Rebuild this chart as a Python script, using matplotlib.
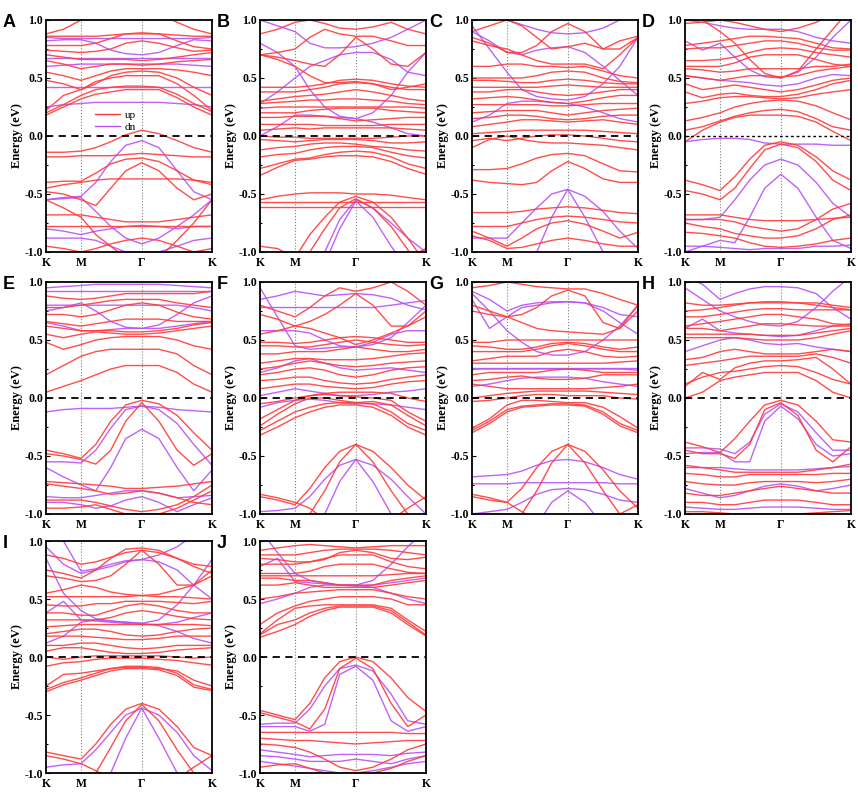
import numpy as np
import matplotlib
matplotlib.use("Agg")
import matplotlib.pyplot as plt
from matplotlib.ticker import MultipleLocator

plt.rcParams['font.family'] = ['Liberation Serif', 'DejaVu Serif']
plt.rcParams['axes.unicode_minus'] = False

# k-path K - M - G - K (fractions of path length), energies read at these points
KPTS = [0, 0.105, 0.211, 0.30, 0.39, 0.48, 0.577, 0.68, 0.79, 0.89, 1.0]
KTICKS = [0, 0.211, 0.577, 1.0]
KLABELS = ["K", "M", "Γ", "K"]
RED = "#ff3a3a"
PURPLE = "#b852f7"

A_up = [
    [-0.14, -0.14, -0.13, -0.10, -0.05, 0.01, 0.05, 0.02, -0.04, -0.10, -0.14],
    [-0.18, -0.18, -0.17, -0.17, -0.17, -0.16, -0.15, -0.16, -0.17, -0.18, -0.18],
    [-0.40, -0.39, -0.39, -0.32, -0.24, -0.20, -0.19, -0.22, -0.30, -0.38, -0.42],
    [-0.45, -0.42, -0.40, -0.38, -0.37, -0.37, -0.37, -0.37, -0.37, -0.38, -0.40],
    [-0.48, -0.50, -0.55, -0.60, -0.45, -0.30, -0.23, -0.30, -0.45, -0.55, -0.50],
    [-0.68, -0.68, -0.68, -0.70, -0.72, -0.74, -0.74, -0.74, -0.72, -0.70, -0.68],
    [-0.78, -0.78, -0.78, -0.78, -0.78, -0.78, -0.78, -0.78, -0.78, -0.78, -0.78],
    [-0.95, -0.97, -1.00, -0.97, -0.93, -0.90, -0.88, -0.90, -0.95, -1.00, -0.97],
    [-0.55, -0.62, -0.70, -0.85, -0.95, -1.05, -1.10, -1.05, -0.90, -0.75, -0.55],
    [0.18, 0.25, 0.32, 0.36, 0.38, 0.40, 0.40, 0.40, 0.33, 0.25, 0.18],
    [0.20, 0.27, 0.35, 0.40, 0.42, 0.43, 0.43, 0.42, 0.36, 0.28, 0.21],
    [0.22, 0.35, 0.40, 0.47, 0.50, 0.52, 0.52, 0.52, 0.45, 0.35, 0.22],
    [0.48, 0.45, 0.40, 0.45, 0.52, 0.55, 0.56, 0.55, 0.50, 0.42, 0.35],
    [0.55, 0.52, 0.48, 0.52, 0.56, 0.58, 0.58, 0.58, 0.57, 0.55, 0.52],
    [0.65, 0.62, 0.58, 0.60, 0.62, 0.62, 0.61, 0.62, 0.64, 0.65, 0.66],
    [0.70, 0.68, 0.66, 0.66, 0.66, 0.66, 0.65, 0.66, 0.68, 0.70, 0.72],
    [0.74, 0.73, 0.72, 0.73, 0.75, 0.80, 0.82, 0.80, 0.76, 0.73, 0.74],
    [0.78, 0.78, 0.78, 0.80, 0.84, 0.88, 0.89, 0.88, 0.82, 0.77, 0.75],
    [0.86, 0.86, 0.86, 0.86, 0.87, 0.88, 0.88, 0.88, 0.87, 0.86, 0.86],
    [0.88, 0.92, 1.00, 1.05, 1.10, 1.10, 1.10, 1.05, 0.98, 0.92, 0.88],
]
A_dn = [
    [-0.55, -0.53, -0.52, -0.40, -0.22, -0.08, -0.04, -0.10, -0.30, -0.48, -0.55],
    [-0.55, -0.54, -0.53, -0.65, -0.78, -0.88, -0.93, -0.88, -0.78, -0.68, -0.55],
    [-0.80, -0.82, -0.85, -0.82, -0.80, -0.78, -0.77, -0.78, -0.80, -0.78, -0.78],
    [-0.88, -0.88, -0.88, -0.90, -0.95, -1.00, -1.00, -1.00, -0.95, -0.90, -0.88],
    [0.25, 0.27, 0.28, 0.29, 0.29, 0.29, 0.29, 0.29, 0.28, 0.27, 0.25],
    [0.42, 0.42, 0.42, 0.42, 0.42, 0.42, 0.42, 0.42, 0.42, 0.42, 0.42],
    [0.60, 0.61, 0.62, 0.62, 0.62, 0.62, 0.62, 0.62, 0.62, 0.61, 0.60],
    [0.67, 0.67, 0.67, 0.67, 0.67, 0.67, 0.67, 0.67, 0.67, 0.67, 0.67],
    [0.82, 0.83, 0.83, 0.80, 0.74, 0.71, 0.70, 0.72, 0.78, 0.83, 0.82],
    [0.85, 0.84, 0.84, 0.84, 0.84, 0.84, 0.84, 0.84, 0.84, 0.84, 0.85],
]

B_up = [
    [-0.55, -0.52, -0.50, -0.49, -0.49, -0.49, -0.50, -0.50, -0.51, -0.53, -0.55],
    [-0.57, -0.57, -0.57, -0.57, -0.57, -0.57, -0.57, -0.57, -0.57, -0.57, -0.57],
    [-0.61, -0.61, -0.61, -0.61, -0.61, -0.61, -0.61, -0.61, -0.61, -0.61, -0.61],
    [-1.50, -1.30, -1.05, -0.85, -0.70, -0.57, -0.52, -0.57, -0.70, -0.88, -1.10],
    [-1.60, -1.40, -1.20, -1.00, -0.80, -0.62, -0.54, -0.62, -0.78, -0.98, -1.20],
    [-0.95, -0.97, -1.05, -1.15, -1.20, -1.20, -1.20, -1.20, -1.15, -1.05, -0.97],
    [0.00, -0.01, -0.01, -0.02, -0.02, -0.02, -0.02, -0.02, -0.01, 0.00, 0.00],
    [-0.03, -0.04, -0.05, -0.04, -0.03, -0.03, -0.03, -0.04, -0.06, -0.06, -0.05],
    [-0.12, -0.10, -0.09, -0.07, -0.06, -0.06, -0.07, -0.09, -0.10, -0.12, -0.13],
    [-0.18, -0.16, -0.15, -0.12, -0.10, -0.09, -0.09, -0.10, -0.14, -0.17, -0.19],
    [-0.28, -0.24, -0.20, -0.19, -0.16, -0.14, -0.13, -0.14, -0.18, -0.24, -0.28],
    [-0.34, -0.27, -0.21, -0.20, -0.18, -0.17, -0.17, -0.18, -0.22, -0.28, -0.33],
    [0.05, 0.06, 0.07, 0.06, 0.07, 0.07, 0.07, 0.07, 0.07, 0.06, 0.05],
    [0.10, 0.10, 0.10, 0.10, 0.09, 0.09, 0.09, 0.09, 0.10, 0.10, 0.10],
    [0.16, 0.16, 0.17, 0.17, 0.17, 0.15, 0.13, 0.14, 0.15, 0.16, 0.16],
    [0.20, 0.20, 0.20, 0.22, 0.23, 0.24, 0.24, 0.24, 0.22, 0.21, 0.20],
    [0.24, 0.25, 0.25, 0.25, 0.25, 0.25, 0.25, 0.25, 0.25, 0.25, 0.24],
    [0.28, 0.29, 0.30, 0.31, 0.31, 0.32, 0.32, 0.31, 0.30, 0.28, 0.27],
    [0.30, 0.32, 0.34, 0.35, 0.36, 0.38, 0.40, 0.38, 0.35, 0.32, 0.30],
    [0.38, 0.38, 0.38, 0.40, 0.42, 0.45, 0.46, 0.45, 0.42, 0.40, 0.40],
    [0.42, 0.42, 0.42, 0.43, 0.45, 0.48, 0.49, 0.48, 0.45, 0.43, 0.42],
    [0.70, 0.66, 0.60, 0.52, 0.46, 0.46, 0.47, 0.45, 0.40, 0.42, 0.45],
    [0.70, 0.68, 0.65, 0.62, 0.60, 0.70, 0.85, 0.75, 0.62, 0.60, 0.72],
    [0.70, 0.72, 0.75, 0.85, 0.92, 0.88, 0.86, 0.86, 0.82, 0.78, 0.78],
    [0.88, 0.92, 0.98, 1.00, 0.97, 0.93, 0.92, 0.94, 0.98, 0.92, 0.88],
]
B_dn = [
    [0.80, 0.72, 0.60, 0.40, 0.25, 0.17, 0.15, 0.20, 0.35, 0.55, 0.72],
    [0.00, 0.08, 0.18, 0.18, 0.17, 0.16, 0.15, 0.12, 0.07, 0.02, 0.00],
    [0.28, 0.38, 0.50, 0.60, 0.65, 0.70, 0.72, 0.72, 0.66, 0.55, 0.52],
    [1.00, 0.95, 0.90, 0.80, 0.76, 0.76, 0.77, 0.80, 0.85, 0.92, 1.00],
    [-1.60, -1.40, -1.25, -1.12, -1.00, -0.72, -0.55, -0.62, -0.75, -0.88, -1.00],
    [-1.50, -1.40, -1.30, -1.20, -1.10, -0.80, -0.56, -0.70, -0.95, -1.15, -1.30],
]

C_up = [
    [-0.66, -0.66, -0.66, -0.65, -0.63, -0.62, -0.61, -0.62, -0.64, -0.66, -0.67],
    [-0.78, -0.78, -0.78, -0.75, -0.72, -0.70, -0.69, -0.70, -0.72, -0.74, -0.75],
    [-0.82, -0.88, -0.95, -0.88, -0.80, -0.75, -0.73, -0.76, -0.82, -0.88, -0.83],
    [-0.86, -0.90, -0.97, -0.96, -0.93, -0.90, -0.88, -0.90, -0.93, -0.95, -0.95],
    [-0.38, -0.40, -0.41, -0.42, -0.40, -0.30, -0.22, -0.28, -0.37, -0.40, -0.40],
    [-0.29, -0.29, -0.28, -0.24, -0.19, -0.16, -0.15, -0.17, -0.24, -0.30, -0.31],
    [-0.10, -0.03, 0.00, -0.03, -0.05, -0.06, -0.06, -0.07, -0.08, -0.10, -0.12],
    [-0.04, -0.02, -0.04, -0.02, 0.00, 0.01, 0.01, 0.00, -0.02, -0.04, -0.05],
    [0.02, 0.03, 0.04, 0.05, 0.05, 0.05, 0.05, 0.05, 0.04, 0.03, 0.02],
    [0.08, 0.10, 0.12, 0.14, 0.14, 0.13, 0.12, 0.13, 0.14, 0.12, 0.10],
    [0.15, 0.16, 0.18, 0.18, 0.17, 0.15, 0.14, 0.15, 0.17, 0.18, 0.18],
    [0.20, 0.21, 0.22, 0.22, 0.22, 0.20, 0.18, 0.20, 0.22, 0.23, 0.24],
    [0.27, 0.27, 0.27, 0.27, 0.27, 0.26, 0.26, 0.27, 0.28, 0.28, 0.28],
    [0.32, 0.33, 0.34, 0.33, 0.31, 0.29, 0.28, 0.30, 0.33, 0.35, 0.35],
    [0.38, 0.38, 0.40, 0.40, 0.38, 0.36, 0.35, 0.36, 0.38, 0.40, 0.40],
    [0.42, 0.42, 0.42, 0.42, 0.42, 0.43, 0.44, 0.43, 0.42, 0.42, 0.42],
    [0.48, 0.48, 0.47, 0.46, 0.46, 0.48, 0.49, 0.48, 0.46, 0.45, 0.45],
    [0.50, 0.50, 0.50, 0.50, 0.52, 0.55, 0.56, 0.55, 0.50, 0.47, 0.46],
    [0.60, 0.60, 0.62, 0.62, 0.60, 0.60, 0.59, 0.60, 0.56, 0.52, 0.50],
    [0.82, 0.78, 0.75, 0.70, 0.65, 0.62, 0.62, 0.62, 0.58, 0.70, 0.85],
    [0.85, 0.80, 0.72, 0.72, 0.78, 0.90, 0.97, 0.90, 0.75, 0.75, 0.85],
    [0.90, 0.95, 1.00, 0.95, 0.85, 0.75, 0.77, 0.80, 0.75, 0.82, 0.86],
]
C_dn = [
    [-0.88, -0.88, -0.88, -0.75, -0.62, -0.50, -0.46, -0.52, -0.65, -0.82, -0.97],
    [-1.60, -1.50, -1.40, -1.20, -1.00, -0.70, -0.46, -0.70, -1.00, -1.30, -1.50],
    [0.95, 0.75, 0.55, 0.40, 0.34, 0.32, 0.31, 0.34, 0.45, 0.60, 0.85],
    [0.12, 0.18, 0.28, 0.30, 0.30, 0.29, 0.28, 0.25, 0.20, 0.15, 0.12],
    [1.20, 1.10, 1.00, 0.96, 0.92, 0.89, 0.88, 0.89, 0.93, 1.00, 1.10],
    [0.90, 0.82, 0.72, 0.70, 0.74, 0.76, 0.77, 0.72, 0.60, 0.48, 0.35],
]

D_up = [
    [-0.38, -0.42, -0.47, -0.35, -0.20, -0.08, -0.05, -0.08, -0.18, -0.30, -0.38],
    [-0.47, -0.50, -0.55, -0.45, -0.28, -0.12, -0.07, -0.10, -0.22, -0.38, -0.47],
    [-0.72, -0.72, -0.72, -0.74, -0.78, -0.80, -0.82, -0.80, -0.72, -0.63, -0.58],
    [-0.75, -0.78, -0.80, -0.84, -0.86, -0.88, -0.88, -0.86, -0.80, -0.72, -0.68],
    [-0.83, -0.84, -0.86, -0.88, -0.92, -0.95, -0.96, -0.95, -0.93, -0.90, -0.88],
    [-0.68, -0.68, -0.68, -0.70, -0.72, -0.73, -0.73, -0.73, -0.72, -0.71, -0.70],
    [-0.05, 0.05, 0.12, 0.16, 0.18, 0.18, 0.18, 0.17, 0.12, 0.04, -0.04],
    [0.05, 0.08, 0.13, 0.17, 0.20, 0.22, 0.23, 0.21, 0.15, 0.08, 0.05],
    [0.13, 0.16, 0.20, 0.25, 0.28, 0.30, 0.31, 0.30, 0.26, 0.20, 0.14],
    [0.28, 0.30, 0.33, 0.34, 0.34, 0.33, 0.32, 0.33, 0.36, 0.38, 0.40],
    [0.38, 0.33, 0.36, 0.37, 0.35, 0.34, 0.34, 0.36, 0.40, 0.45, 0.48],
    [0.45, 0.40, 0.42, 0.44, 0.42, 0.40, 0.38, 0.40, 0.44, 0.48, 0.50],
    [0.52, 0.50, 0.48, 0.50, 0.52, 0.52, 0.51, 0.52, 0.56, 0.58, 0.60],
    [0.58, 0.57, 0.55, 0.56, 0.58, 0.58, 0.58, 0.58, 0.60, 0.60, 0.62],
    [0.60, 0.60, 0.60, 0.63, 0.68, 0.70, 0.70, 0.70, 0.66, 0.62, 0.60],
    [0.65, 0.65, 0.66, 0.68, 0.72, 0.75, 0.76, 0.75, 0.72, 0.70, 0.68],
    [0.75, 0.76, 0.76, 0.78, 0.80, 0.82, 0.82, 0.80, 0.76, 0.74, 0.74],
    [0.78, 0.80, 0.82, 0.84, 0.86, 0.86, 0.85, 0.84, 0.80, 0.76, 0.75],
    [1.20, 1.00, 0.90, 0.80, 0.66, 0.54, 0.50, 0.56, 0.75, 0.92, 1.10],
    [0.97, 0.98, 1.00, 0.98, 0.95, 0.92, 0.90, 0.93, 0.98, 1.05, 1.10],
]
D_dn = [
    [-0.05, -0.03, -0.02, -0.02, -0.03, -0.06, -0.07, -0.07, -0.07, -0.08, -0.08],
    [-0.72, -0.72, -0.70, -0.55, -0.38, -0.25, -0.20, -0.25, -0.40, -0.58, -0.70],
    [-1.00, -0.95, -0.90, -0.92, -0.70, -0.45, -0.33, -0.45, -0.70, -0.90, -0.97],
    [-0.95, -0.95, -0.96, -0.97, -0.98, -0.97, -0.97, -0.97, -0.95, -0.95, -0.94],
    [0.52, 0.50, 0.48, 0.47, 0.46, 0.44, 0.43, 0.45, 0.50, 0.53, 0.52],
    [0.82, 0.74, 0.80, 0.68, 0.57, 0.51, 0.50, 0.55, 0.68, 0.85, 1.00],
    [1.00, 0.98, 0.95, 0.93, 0.92, 0.92, 0.92, 0.90, 0.85, 0.82, 0.80],
]

E_up = [
    [-0.45, -0.48, -0.52, -0.40, -0.20, -0.06, -0.02, -0.05, -0.15, -0.30, -0.45],
    [-0.48, -0.50, -0.53, -0.57, -0.45, -0.20, -0.04, -0.20, -0.45, -0.58, -0.48],
    [-0.72, -0.73, -0.74, -0.75, -0.76, -0.78, -0.78, -0.77, -0.76, -0.74, -0.72],
    [-0.74, -0.76, -0.78, -0.80, -0.83, -0.82, -0.80, -0.82, -0.86, -0.90, -0.92],
    [-0.95, -0.95, -0.94, -0.92, -0.96, -1.00, -1.00, -1.00, -0.95, -0.88, -0.80],
    [-0.88, -0.88, -0.88, -0.90, -0.93, -0.96, -0.98, -0.96, -0.92, -0.85, -0.75],
    [0.05, 0.10, 0.15, 0.20, 0.25, 0.28, 0.28, 0.28, 0.22, 0.12, 0.05],
    [0.20, 0.28, 0.36, 0.40, 0.42, 0.42, 0.42, 0.42, 0.38, 0.28, 0.20],
    [0.48, 0.42, 0.46, 0.50, 0.52, 0.53, 0.53, 0.53, 0.50, 0.45, 0.42],
    [0.55, 0.52, 0.55, 0.57, 0.56, 0.55, 0.55, 0.56, 0.58, 0.60, 0.62],
    [0.62, 0.60, 0.58, 0.58, 0.58, 0.57, 0.57, 0.58, 0.60, 0.63, 0.65],
    [0.66, 0.64, 0.62, 0.64, 0.66, 0.68, 0.68, 0.68, 0.66, 0.66, 0.66],
    [0.72, 0.72, 0.70, 0.72, 0.76, 0.80, 0.82, 0.80, 0.74, 0.70, 0.68],
    [0.78, 0.78, 0.80, 0.82, 0.84, 0.85, 0.85, 0.85, 0.82, 0.80, 0.78],
    [0.88, 0.86, 0.85, 0.86, 0.88, 0.90, 0.90, 0.90, 0.90, 0.90, 0.92],
]
E_dn = [
    [-0.12, -0.10, -0.09, -0.09, -0.09, -0.08, -0.07, -0.08, -0.10, -0.11, -0.12],
    [-0.55, -0.55, -0.56, -0.45, -0.26, -0.10, -0.07, -0.10, -0.22, -0.40, -0.58],
    [-0.60, -0.68, -0.75, -0.80, -0.60, -0.35, -0.27, -0.35, -0.60, -0.80, -0.62],
    [-0.85, -0.86, -0.86, -0.84, -0.82, -0.80, -0.80, -0.82, -0.86, -0.85, -0.84],
    [-0.90, -0.90, -0.92, -0.95, -0.93, -0.88, -0.85, -0.90, -0.98, -0.92, -0.86],
    [0.75, 0.78, 0.82, 0.75, 0.66, 0.61, 0.60, 0.63, 0.72, 0.82, 0.88],
    [0.65, 0.62, 0.58, 0.58, 0.59, 0.60, 0.60, 0.60, 0.62, 0.64, 0.66],
    [0.80, 0.80, 0.80, 0.80, 0.80, 0.80, 0.80, 0.80, 0.80, 0.78, 0.75],
    [0.92, 0.92, 0.92, 0.92, 0.92, 0.92, 0.92, 0.92, 0.92, 0.92, 0.92],
    [0.95, 0.96, 0.97, 0.98, 0.98, 0.98, 0.98, 0.98, 0.97, 0.96, 0.95],
]

F_up = [
    [-0.85, -0.88, -0.92, -0.78, -0.60, -0.46, -0.40, -0.46, -0.60, -0.75, -0.88],
    [-1.60, -1.40, -1.20, -1.00, -0.80, -0.55, -0.40, -0.55, -0.80, -1.00, -1.20],
    [-0.83, -0.86, -0.90, -0.95, -1.05, -1.10, -1.10, -1.10, -1.05, -0.95, -0.85],
    [-0.32, -0.25, -0.17, -0.12, -0.08, -0.06, -0.06, -0.08, -0.15, -0.25, -0.32],
    [-0.28, -0.20, -0.12, -0.08, -0.05, -0.04, -0.04, -0.05, -0.12, -0.22, -0.28],
    [-0.24, -0.14, -0.05, 0.00, 0.00, -0.02, -0.04, -0.03, -0.06, -0.15, -0.24],
    [-0.18, -0.10, -0.02, 0.02, 0.03, 0.02, 0.01, 0.00, -0.02, -0.12, -0.20],
    [-0.05, -0.03, 0.00, 0.02, 0.04, 0.05, 0.05, 0.05, 0.04, 0.00, -0.03],
    [0.08, 0.10, 0.12, 0.12, 0.10, 0.09, 0.08, 0.09, 0.12, 0.14, 0.15],
    [0.15, 0.16, 0.18, 0.18, 0.15, 0.13, 0.12, 0.13, 0.16, 0.18, 0.20],
    [0.20, 0.22, 0.25, 0.26, 0.24, 0.20, 0.18, 0.20, 0.24, 0.26, 0.27],
    [0.25, 0.27, 0.30, 0.32, 0.30, 0.28, 0.27, 0.28, 0.30, 0.31, 0.32],
    [0.30, 0.32, 0.34, 0.34, 0.33, 0.33, 0.33, 0.34, 0.36, 0.38, 0.39],
    [0.38, 0.38, 0.40, 0.40, 0.40, 0.42, 0.44, 0.42, 0.40, 0.40, 0.42],
    [0.45, 0.45, 0.44, 0.44, 0.46, 0.48, 0.50, 0.48, 0.46, 0.45, 0.46],
    [0.48, 0.48, 0.47, 0.48, 0.50, 0.52, 0.53, 0.52, 0.50, 0.48, 0.48],
    [0.55, 0.58, 0.62, 0.60, 0.56, 0.52, 0.46, 0.50, 0.56, 0.62, 0.70],
    [0.72, 0.68, 0.62, 0.66, 0.72, 0.80, 0.90, 0.80, 0.62, 0.62, 0.75],
    [0.80, 0.75, 0.70, 0.78, 0.88, 0.95, 0.92, 0.95, 1.00, 0.92, 0.80],
]
F_dn = [
    [-0.98, -0.97, -0.95, -0.85, -0.70, -0.58, -0.53, -0.58, -0.70, -0.85, -1.00],
    [-1.60, -1.50, -1.30, -1.15, -1.00, -0.72, -0.53, -0.72, -1.00, -1.20, -1.40],
    [-0.08, -0.04, -0.02, -0.01, -0.02, -0.04, -0.05, -0.05, -0.06, -0.08, -0.10],
    [0.02, 0.05, 0.08, 0.06, 0.04, 0.02, 0.02, 0.03, 0.05, 0.06, 0.08],
    [0.22, 0.26, 0.32, 0.34, 0.30, 0.26, 0.24, 0.25, 0.26, 0.24, 0.22],
    [0.95, 0.70, 0.45, 0.42, 0.43, 0.44, 0.44, 0.46, 0.52, 0.65, 0.80],
    [0.58, 0.58, 0.58, 0.56, 0.50, 0.45, 0.44, 0.48, 0.55, 0.58, 0.58],
    [0.78, 0.78, 0.78, 0.78, 0.78, 0.78, 0.78, 0.78, 0.80, 0.82, 0.84],
    [0.85, 0.88, 0.92, 0.90, 0.88, 0.89, 0.90, 0.89, 0.86, 0.80, 0.76],
]

G_up = [
    [-0.85, -0.88, -0.90, -0.78, -0.60, -0.46, -0.40, -0.46, -0.62, -0.80, -0.95],
    [-1.60, -1.40, -1.20, -1.00, -0.80, -0.56, -0.40, -0.56, -0.80, -1.00, -1.20],
    [-0.83, -0.86, -0.90, -0.98, -1.05, -1.10, -1.10, -1.10, -1.05, -1.00, -0.92],
    [-0.28, -0.20, -0.10, -0.07, -0.06, -0.05, -0.05, -0.06, -0.12, -0.22, -0.28],
    [-0.30, -0.22, -0.12, -0.08, -0.07, -0.06, -0.06, -0.07, -0.14, -0.24, -0.30],
    [-0.26, -0.18, -0.06, -0.02, -0.02, -0.03, -0.04, -0.04, -0.08, -0.16, -0.26],
    [-0.03, -0.02, 0.00, 0.02, 0.03, 0.03, 0.02, 0.02, 0.02, 0.00, -0.01],
    [0.00, 0.02, 0.04, 0.05, 0.06, 0.06, 0.06, 0.06, 0.05, 0.04, 0.03],
    [0.12, 0.10, 0.08, 0.08, 0.08, 0.08, 0.08, 0.08, 0.09, 0.10, 0.12],
    [0.15, 0.16, 0.18, 0.19, 0.17, 0.16, 0.16, 0.17, 0.20, 0.20, 0.20],
    [0.20, 0.22, 0.22, 0.22, 0.22, 0.24, 0.25, 0.24, 0.22, 0.22, 0.22],
    [0.30, 0.30, 0.30, 0.30, 0.30, 0.30, 0.30, 0.30, 0.30, 0.31, 0.32],
    [0.32, 0.34, 0.36, 0.36, 0.36, 0.40, 0.42, 0.40, 0.36, 0.35, 0.36],
    [0.40, 0.40, 0.40, 0.40, 0.42, 0.45, 0.47, 0.45, 0.42, 0.40, 0.40],
    [0.45, 0.44, 0.42, 0.42, 0.44, 0.47, 0.48, 0.47, 0.44, 0.42, 0.44],
    [0.48, 0.48, 0.50, 0.50, 0.50, 0.50, 0.50, 0.50, 0.50, 0.50, 0.50],
    [0.75, 0.72, 0.70, 0.72, 0.78, 0.88, 0.93, 0.88, 0.65, 0.60, 0.75],
    [0.80, 0.75, 0.70, 0.65, 0.60, 0.58, 0.57, 0.56, 0.55, 0.60, 0.80],
    [0.95, 0.97, 1.00, 0.98, 0.96, 0.95, 0.94, 0.94, 0.90, 0.85, 0.80],
]
G_dn = [
    [-0.68, -0.67, -0.66, -0.63, -0.58, -0.54, -0.53, -0.55, -0.60, -0.66, -0.70],
    [-0.74, -0.74, -0.74, -0.73, -0.73, -0.73, -0.73, -0.73, -0.73, -0.74, -0.74],
    [-1.00, -0.98, -0.96, -0.90, -0.83, -0.79, -0.78, -0.79, -0.83, -0.88, -0.90],
    [-1.60, -1.50, -1.40, -1.30, -1.10, -0.90, -0.80, -0.90, -1.10, -1.30, -1.40],
    [0.10, 0.12, 0.15, 0.17, 0.18, 0.18, 0.18, 0.17, 0.14, 0.12, 0.10],
    [0.26, 0.26, 0.26, 0.26, 0.26, 0.26, 0.26, 0.26, 0.26, 0.26, 0.26],
    [0.25, 0.25, 0.25, 0.25, 0.25, 0.25, 0.25, 0.25, 0.25, 0.25, 0.24],
    [0.90, 0.75, 0.58, 0.48, 0.40, 0.37, 0.37, 0.40, 0.50, 0.62, 0.80],
    [0.92, 0.85, 0.75, 0.80, 0.82, 0.83, 0.83, 0.82, 0.75, 0.65, 0.55],
    [0.85, 0.60, 0.70, 0.78, 0.80, 0.82, 0.83, 0.82, 0.78, 0.72, 0.70],
]

H_up = [
    [-0.38, -0.42, -0.47, -0.35, -0.20, -0.06, -0.02, -0.06, -0.20, -0.36, -0.38],
    [-0.45, -0.48, -0.48, -0.52, -0.40, -0.10, -0.04, -0.15, -0.45, -0.55, -0.42],
    [-0.58, -0.60, -0.62, -0.64, -0.64, -0.64, -0.64, -0.64, -0.62, -0.60, -0.57],
    [-0.65, -0.66, -0.68, -0.68, -0.66, -0.66, -0.66, -0.66, -0.66, -0.65, -0.65],
    [-0.72, -0.74, -0.75, -0.75, -0.73, -0.72, -0.72, -0.72, -0.73, -0.72, -0.70],
    [-0.82, -0.84, -0.84, -0.82, -0.80, -0.78, -0.76, -0.78, -0.80, -0.82, -0.82],
    [-0.90, -0.90, -0.92, -0.92, -0.90, -0.88, -0.88, -0.88, -0.90, -0.92, -0.92],
    [-0.98, -0.98, -0.99, -1.00, -1.00, -1.00, -1.00, -1.00, -0.99, -0.98, -0.97],
    [0.00, 0.05, 0.15, 0.18, 0.20, 0.22, 0.22, 0.22, 0.15, 0.05, 0.00],
    [0.12, 0.18, 0.22, 0.23, 0.25, 0.27, 0.28, 0.27, 0.22, 0.16, 0.12],
    [0.10, 0.22, 0.16, 0.26, 0.30, 0.32, 0.32, 0.33, 0.35, 0.25, 0.12],
    [0.28, 0.30, 0.32, 0.34, 0.36, 0.36, 0.36, 0.36, 0.38, 0.35, 0.30],
    [0.33, 0.35, 0.40, 0.42, 0.40, 0.38, 0.38, 0.38, 0.40, 0.42, 0.40],
    [0.52, 0.52, 0.52, 0.52, 0.51, 0.50, 0.50, 0.50, 0.52, 0.55, 0.58],
    [0.55, 0.55, 0.55, 0.55, 0.55, 0.54, 0.54, 0.54, 0.56, 0.58, 0.60],
    [0.60, 0.60, 0.58, 0.60, 0.62, 0.64, 0.64, 0.63, 0.62, 0.62, 0.62],
    [0.62, 0.64, 0.66, 0.68, 0.70, 0.72, 0.72, 0.70, 0.68, 0.64, 0.63],
    [0.70, 0.70, 0.72, 0.74, 0.76, 0.77, 0.77, 0.76, 0.76, 0.76, 0.76],
    [0.75, 0.76, 0.78, 0.80, 0.82, 0.83, 0.83, 0.82, 0.80, 0.78, 0.76],
    [0.82, 0.80, 0.80, 0.81, 0.82, 0.82, 0.82, 0.82, 0.82, 0.80, 0.78],
]
H_dn = [
    [-0.43, -0.43, -0.44, -0.48, -0.38, -0.14, -0.05, -0.12, -0.30, -0.45, -0.45],
    [-0.48, -0.47, -0.47, -0.55, -0.55, -0.20, -0.07, -0.18, -0.40, -0.50, -0.48],
    [-0.60, -0.60, -0.60, -0.61, -0.62, -0.62, -0.62, -0.62, -0.61, -0.60, -0.59],
    [-0.78, -0.82, -0.86, -0.84, -0.80, -0.76, -0.74, -0.76, -0.80, -0.78, -0.75],
    [-0.94, -0.95, -0.96, -0.96, -0.95, -0.94, -0.94, -0.94, -0.95, -0.96, -0.96],
    [0.40, 0.45, 0.50, 0.52, 0.50, 0.47, 0.46, 0.47, 0.44, 0.42, 0.40],
    [0.95, 0.85, 0.75, 0.70, 0.66, 0.63, 0.62, 0.66, 0.78, 0.92, 1.05],
    [0.60, 0.68, 0.58, 0.56, 0.55, 0.54, 0.53, 0.54, 0.58, 0.62, 0.64],
    [1.05, 0.98, 0.85, 0.90, 0.94, 0.96, 0.96, 0.95, 0.90, 0.78, 0.68],
]

I_up = [
    [-0.82, -0.85, -0.88, -0.75, -0.58, -0.45, -0.40, -0.45, -0.60, -0.78, -0.85],
    [-1.60, -1.40, -1.20, -1.00, -0.78, -0.55, -0.41, -0.55, -0.80, -1.00, -1.20],
    [-0.85, -0.88, -0.92, -0.98, -1.05, -1.10, -1.10, -1.10, -1.05, -0.95, -0.85],
    [-0.28, -0.22, -0.18, -0.14, -0.10, -0.08, -0.08, -0.09, -0.14, -0.24, -0.28],
    [-0.30, -0.24, -0.20, -0.16, -0.12, -0.10, -0.10, -0.11, -0.16, -0.26, -0.29],
    [-0.25, -0.15, -0.14, -0.12, -0.10, -0.09, -0.09, -0.10, -0.12, -0.20, -0.25],
    [-0.08, -0.05, -0.04, -0.02, -0.01, -0.01, -0.01, -0.02, -0.03, -0.05, -0.07],
    [0.00, -0.02, 0.00, 0.01, 0.01, 0.01, 0.01, 0.01, 0.00, -0.01, 0.00],
    [0.05, 0.08, 0.08, 0.06, 0.04, 0.03, 0.03, 0.04, 0.06, 0.07, 0.08],
    [0.10, 0.10, 0.12, 0.12, 0.10, 0.08, 0.07, 0.08, 0.10, 0.10, 0.10],
    [0.18, 0.18, 0.18, 0.17, 0.16, 0.15, 0.15, 0.16, 0.18, 0.18, 0.18],
    [0.20, 0.22, 0.24, 0.24, 0.22, 0.19, 0.18, 0.19, 0.22, 0.24, 0.25],
    [0.26, 0.27, 0.28, 0.28, 0.28, 0.28, 0.28, 0.28, 0.28, 0.28, 0.27],
    [0.32, 0.32, 0.32, 0.32, 0.34, 0.38, 0.40, 0.38, 0.35, 0.33, 0.32],
    [0.38, 0.38, 0.36, 0.36, 0.40, 0.44, 0.46, 0.44, 0.40, 0.38, 0.38],
    [0.45, 0.44, 0.44, 0.46, 0.46, 0.48, 0.48, 0.48, 0.47, 0.46, 0.48],
    [0.52, 0.52, 0.52, 0.52, 0.52, 0.52, 0.53, 0.52, 0.52, 0.51, 0.50],
    [0.55, 0.58, 0.62, 0.60, 0.56, 0.54, 0.53, 0.54, 0.58, 0.62, 0.70],
    [0.70, 0.68, 0.65, 0.66, 0.70, 0.80, 0.92, 0.80, 0.62, 0.62, 0.75],
    [0.75, 0.72, 0.68, 0.75, 0.85, 0.93, 0.94, 0.92, 0.85, 0.78, 0.72],
    [0.88, 0.85, 0.80, 0.82, 0.86, 0.90, 0.92, 0.90, 0.85, 0.80, 0.78],
]
I_dn = [
    [-0.95, -0.93, -0.92, -0.80, -0.65, -0.50, -0.44, -0.50, -0.65, -0.85, -0.98],
    [-1.60, -1.50, -1.30, -1.15, -1.00, -0.70, -0.44, -0.70, -1.00, -1.20, -1.40],
    [0.12, 0.18, 0.30, 0.32, 0.31, 0.30, 0.29, 0.27, 0.22, 0.16, 0.12],
    [0.85, 0.55, 0.40, 0.33, 0.31, 0.30, 0.29, 0.32, 0.45, 0.62, 0.84],
    [0.38, 0.48, 0.32, 0.31, 0.30, 0.29, 0.28, 0.28, 0.30, 0.34, 0.38],
    [0.95, 0.80, 0.72, 0.75, 0.78, 0.82, 0.84, 0.82, 0.75, 0.62, 0.50],
    [1.20, 1.00, 0.74, 0.76, 0.80, 0.83, 0.84, 0.88, 0.95, 1.05, 1.10],
]

J_up = [
    [-0.46, -0.50, -0.54, -0.40, -0.18, -0.04, 0.00, -0.04, -0.18, -0.35, -0.47],
    [-0.48, -0.52, -0.56, -0.62, -0.45, -0.10, -0.01, -0.10, -0.40, -0.60, -0.50],
    [-0.65, -0.65, -0.65, -0.65, -0.65, -0.65, -0.65, -0.65, -0.65, -0.66, -0.66],
    [-0.70, -0.71, -0.72, -0.72, -0.73, -0.74, -0.75, -0.74, -0.73, -0.72, -0.72],
    [-0.75, -0.76, -0.78, -0.82, -0.88, -0.95, -0.98, -0.95, -0.88, -0.80, -0.75],
    [-0.95, -0.93, -0.92, -0.96, -1.00, -1.02, -1.02, -1.00, -0.96, -0.90, -0.85],
    [0.17, 0.22, 0.28, 0.35, 0.40, 0.43, 0.43, 0.43, 0.38, 0.28, 0.18],
    [0.19, 0.28, 0.32, 0.38, 0.42, 0.44, 0.44, 0.44, 0.40, 0.30, 0.19],
    [0.20, 0.32, 0.42, 0.44, 0.45, 0.45, 0.45, 0.45, 0.42, 0.32, 0.22],
    [0.28, 0.38, 0.44, 0.48, 0.50, 0.52, 0.52, 0.52, 0.50, 0.45, 0.45],
    [0.50, 0.52, 0.55, 0.56, 0.57, 0.58, 0.58, 0.58, 0.55, 0.52, 0.50],
    [0.62, 0.62, 0.64, 0.62, 0.60, 0.60, 0.60, 0.60, 0.62, 0.64, 0.66],
    [0.68, 0.68, 0.66, 0.66, 0.64, 0.62, 0.62, 0.62, 0.66, 0.68, 0.70],
    [0.70, 0.70, 0.70, 0.70, 0.70, 0.70, 0.70, 0.70, 0.71, 0.72, 0.72],
    [0.72, 0.72, 0.72, 0.74, 0.78, 0.80, 0.80, 0.80, 0.76, 0.73, 0.72],
    [0.80, 0.80, 0.80, 0.82, 0.85, 0.88, 0.88, 0.88, 0.82, 0.78, 0.76],
    [0.85, 0.84, 0.82, 0.82, 0.84, 0.90, 0.92, 0.90, 0.85, 0.84, 0.86],
    [0.88, 0.88, 0.88, 0.90, 0.92, 0.93, 0.93, 0.93, 0.92, 0.90, 0.88],
    [0.92, 0.94, 0.96, 0.97, 0.96, 0.95, 0.94, 0.95, 0.96, 0.96, 0.96],
]
J_dn = [
    [-0.58, -0.57, -0.57, -0.45, -0.25, -0.10, -0.07, -0.12, -0.32, -0.55, -0.58],
    [-0.60, -0.60, -0.60, -0.64, -0.58, -0.15, -0.08, -0.20, -0.55, -0.64, -0.60],
    [-0.80, -0.82, -0.84, -0.86, -0.85, -0.84, -0.84, -0.84, -0.85, -0.83, -0.82],
    [-0.85, -0.86, -0.88, -0.90, -0.90, -0.90, -0.88, -0.90, -0.92, -0.88, -0.85],
    [-0.90, -0.92, -0.94, -0.96, -0.98, -1.00, -1.00, -0.98, -0.95, -0.92, -0.90],
    [0.46, 0.50, 0.55, 0.60, 0.62, 0.62, 0.62, 0.60, 0.55, 0.50, 0.46],
    [1.10, 0.90, 0.72, 0.66, 0.64, 0.62, 0.62, 0.66, 0.80, 0.95, 1.10],
    [0.78, 0.85, 0.65, 0.64, 0.63, 0.62, 0.61, 0.62, 0.64, 0.66, 0.68],
]

PANELS = [
    ("A", A_up, A_dn), ("B", B_up, B_dn), ("C", C_up, C_dn), ("D", D_up, D_dn),
    ("E", E_up, E_dn), ("F", F_up, F_dn), ("G", G_up, G_dn), ("H", H_up, H_dn),
    ("I", I_up, I_dn), ("J", J_up, J_dn),
]

W, H = 858, 794
fig = plt.figure(figsize=(W / 100, H / 100), dpi=100)

col_left = [46, 260, 472, 685]
row_top = [20, 282, 541]
ax_w, ax_h = 166, 232

for i, (letter, ups, dns) in enumerate(PANELS):
    r, c = divmod(i, 4)
    left = col_left[c]
    top = row_top[r]
    ax = fig.add_axes([left / W, (H - top - ax_h) / H, ax_w / W, ax_h / H])

    for band in dns:
        ax.plot(KPTS, band, color=PURPLE, lw=1.0, alpha=0.9)
    for band in ups:
        ax.plot(KPTS, band, color=RED, lw=1.0, alpha=0.9)

    for kx in KTICKS[1:3]:
        ax.axvline(kx, color="gray", ls=":", lw=0.8)
    if letter == "D":
        ax.axhline(0, color="black", ls=(0, (2, 2)), lw=1.0)
    else:
        ax.axhline(0, color="black", ls=(0, (4, 3)), lw=1.3)

    ax.set_xlim(0, 1)
    ax.set_ylim(-1, 1)
    ax.set_xticks(KTICKS)
    ax.set_xticklabels(KLABELS, fontsize=8.5, fontweight="bold")
    ax.tick_params(axis="x", length=0, pad=3.5)
    ax.yaxis.set_minor_locator(MultipleLocator(0.25))
    ax.set_yticks([-1, -0.5, 0, 0.5, 1])
    ax.set_yticklabels(["-1.0", "-0.5", "0.0", "0.5", "1.0"], fontsize=8.5, fontweight="bold")
    ax.tick_params(axis="y", which="both", direction="in", length=3, width=0.8, pad=2)
    ax.tick_params(axis="y", which="minor", length=1.5)
    ax.set_ylabel("Energy (eV)", fontsize=9, fontweight="bold", labelpad=1)
    for s in ax.spines.values():
        s.set_linewidth(1.3)

    if letter == "A":
        ax.plot([], [], color=RED, lw=1.0, label="up")
        ax.plot([], [], color=PURPLE, lw=1.0, label="dn")
        ax.legend(loc="center", bbox_to_anchor=(0.42, 0.565), frameon=False,
                  fontsize=8, handlelength=2.2, labelspacing=0.2, handletextpad=0.5)

    fig.text((left - 43) / W, 1 - (top - 6) / H, letter, fontsize=13, fontweight="bold",
             family=["Liberation Sans", "DejaVu Sans"], va="top", ha="left")

fig.savefig("out.png", dpi=100)
